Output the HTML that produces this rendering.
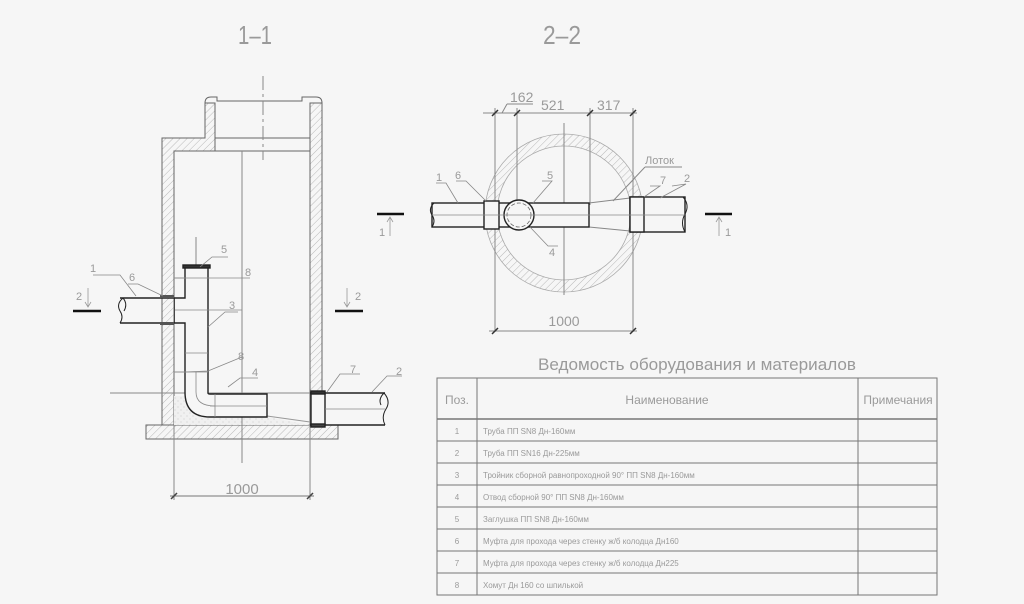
<!DOCTYPE html>
<html><head><meta charset="utf-8"><style>
html,body{margin:0;padding:0;background:#f6f6f6;}
svg{display:block;}
text{font-family:"Liberation Sans",sans-serif;fill:#9a9a9a;}
</style></head><body>
<svg width="1024" height="604" viewBox="0 0 1024 604" xmlns="http://www.w3.org/2000/svg">
<defs>
<pattern id="h" patternUnits="userSpaceOnUse" width="5" height="5" patternTransform="rotate(45)">
<rect width="5" height="5" fill="#f6f6f6"/><line x1="0" y1="0" x2="0" y2="5" stroke="#aaa" stroke-width="0.8"/>
</pattern>
<pattern id="d" patternUnits="userSpaceOnUse" width="6" height="6">
<rect width="6" height="6" fill="#f0f0f0"/><circle cx="1" cy="2" r="0.5" fill="#bbb"/><circle cx="4" cy="5" r="0.5" fill="#bbb"/>
</pattern>
</defs>

<!-- titles -->
<text x="255" y="44" font-size="26" text-anchor="middle" textLength="34" lengthAdjust="spacingAndGlyphs" fill="#c4c4c4">1–1</text>
<text x="562" y="44" font-size="26" text-anchor="middle" textLength="38" lengthAdjust="spacingAndGlyphs" fill="#c4c4c4">2–2</text>

<!-- ========== LEFT 1-1 ========== -->
<g stroke="#666" stroke-width="1" fill="none">
<path d="M162,138 H205 V103 H215 V151 H174 V425 H162 Z" fill="url(#h)"/>
<path d="M310,103 H322 V425 H310 Z" fill="url(#h)"/>
<path d="M205,103 Q205,97 211,97 H217 V101 H302 V97 H316 Q322,97 322,103"/>
<line x1="215" y1="138" x2="310" y2="138"/>
<line x1="215" y1="151" x2="310" y2="151"/>
<rect x="146" y="425" width="192" height="14" fill="url(#h)"/>
<path d="M174,396 H186 Q190,417 210,417 H267 L310,425 H174 Z" fill="url(#d)" stroke="none"/>
<line x1="267" y1="416" x2="310" y2="422" stroke="#999"/>
<line x1="242" y1="151" x2="242" y2="463" stroke="#888"/>
<line x1="263" y1="76" x2="263" y2="160" stroke="#888" stroke-dasharray="14,4,3,4"/>
<line x1="110" y1="393" x2="310" y2="393" stroke="#888"/>
<line x1="196" y1="237" x2="196" y2="268" stroke="#888"/>
<line x1="174" y1="425" x2="174" y2="500" stroke="#888"/>
<line x1="310" y1="425" x2="310" y2="500" stroke="#888"/>
<line x1="170" y1="496" x2="314" y2="496" stroke="#777"/>
<line x1="171" y1="499" x2="177" y2="493" stroke="#444" stroke-width="1.5"/>
<line x1="307" y1="499" x2="313" y2="493" stroke="#444" stroke-width="1.5"/>
</g>
<text x="242" y="494" font-size="15" text-anchor="middle" fill="#aaa">1000</text>

<g stroke="#222" stroke-width="1.4" fill="#f6f6f6">
<path d="M120,298 H175 M120,323 H175"/>
<path d="M175,298 V323" stroke-width="1"/>
<path d="M175,298 H185 V267 H208 V393 Q208,394 210,394 H267 V417 H210 Q185,417 185,392 V323 H175" />
<path d="M123,298 Q116,304 120,311 Q124,317 120,323" fill="none" stroke-width="1"/>
<path d="M123,298 Q128,304 124,311" fill="none" stroke-width="1"/>
<rect x="183" y="265" width="27" height="3" fill="#333"/>
<rect x="160" y="295" width="14" height="3" fill="#555" stroke="none"/>
<rect x="160" y="322" width="14" height="3" fill="#555" stroke="none"/>
</g>
<g stroke="#888" stroke-width="0.8" fill="none">
<line x1="175" y1="310" x2="242" y2="310"/>
<line x1="185" y1="353" x2="208" y2="353"/>
<line x1="185" y1="372" x2="208" y2="372"/>
<line x1="174" y1="372" x2="185" y2="372"/>
<line x1="174" y1="278" x2="185" y2="278"/>
<line x1="210" y1="406" x2="267" y2="406"/>
<line x1="215" y1="394" x2="215" y2="417"/>
<path d="M196,372 V392 Q196,406 215,406"/>
</g>
<g stroke="#222" stroke-width="1.4" fill="#f6f6f6">
<path d="M310,393 H385 M310,425 H385"/>
<rect x="311" y="393" width="14" height="32"/>
<path d="M384,393 Q391,401 386,409 Q381,417 385,425" fill="none" stroke-width="1"/>
<path d="M384,393 Q378,399 381,405" fill="none" stroke-width="1"/>
<rect x="311" y="391" width="14" height="3" fill="#333"/>
<rect x="311" y="424" width="14" height="3" fill="#444"/>
</g>
<line x1="325" y1="409" x2="385" y2="409" stroke="#888" stroke-width="0.8"/>
<g stroke="#888" stroke-width="0.8" fill="none">
<polyline points="93,275 120,275 136,296"/>
<polyline points="128,284 138,284 163,296"/>
<polyline points="200,267 212,257 228,257"/>
<polyline points="175,278 250,278"/>
<polyline points="208,327 225,312 238,312"/>
<polyline points="175,372 185,372 208,371 242,357"/>
<polyline points="228,387 240,378 258,378"/>
<polyline points="327,392 340,374 360,374"/>
<polyline points="372,392 387,376 402,376"/>
</g>
<g font-size="11" fill="#999">
<text x="90" y="272">1</text><text x="129" y="281">6</text><text x="221" y="253">5</text>
<text x="245" y="276">8</text><text x="229" y="309">3</text><text x="238" y="360">8</text>
<text x="252" y="376">4</text><text x="350" y="373">7</text><text x="396" y="375">2</text>
</g>
<g stroke="#111" stroke-width="2.5">
<line x1="73" y1="311" x2="101" y2="311"/><line x1="335" y1="311" x2="363" y2="311"/>
</g>
<g stroke="#999" stroke-width="0.8" fill="none">
<path d="M88,288 V306 M85,302 L88,307 L91,302"/>
<path d="M347,288 V306 M344,302 L347,307 L350,302"/>
</g>
<g font-size="11" fill="#999"><text x="76" y="300">2</text><text x="355" y="300">2</text></g>

<!-- ========== RIGHT 2-2 ========== -->
<g stroke="#888" stroke-width="1" fill="none">
<circle cx="564" cy="213" r="73" stroke="url(#h)" stroke-width="12"/>
<circle cx="564" cy="213" r="79" stroke="#aaa" stroke-width="0.8"/>
<circle cx="564" cy="213" r="67" stroke="#aaa" stroke-width="0.8"/>
<line x1="564" y1="123" x2="564" y2="295"/>
<line x1="495" y1="108" x2="495" y2="332"/>
<line x1="633" y1="108" x2="633" y2="332"/>
<line x1="517" y1="108" x2="517" y2="215"/>
<line x1="590" y1="108" x2="590" y2="205"/>
<line x1="483" y1="113" x2="637" y2="113"/>
<line x1="489" y1="331" x2="637" y2="331"/>
<line x1="507" y1="104" x2="533" y2="104"/>
<line x1="507" y1="104" x2="502" y2="113"/>
<line x1="613" y1="201" x2="645" y2="167"/>
<line x1="645" y1="167" x2="682" y2="167"/>
<line x1="589" y1="203" x2="630" y2="198"/>
<line x1="589" y1="227" x2="630" y2="231"/>
</g>
<g stroke="#333" stroke-width="1.5">
<line x1="492" y1="116" x2="498" y2="110"/><line x1="514" y1="116" x2="520" y2="110"/>
<line x1="587" y1="116" x2="593" y2="110"/><line x1="630" y1="116" x2="636" y2="110"/>
<line x1="492" y1="334" x2="498" y2="328"/><line x1="630" y1="334" x2="636" y2="328"/>
</g>
<g font-size="14" fill="#999">
<text x="510" y="102">162</text><text x="541" y="110">521</text><text x="597" y="110">317</text>
<text x="564" y="326" text-anchor="middle">1000</text>
</g>
<g stroke="#222" stroke-width="1.4" fill="#f6f6f6">
<rect x="432" y="203" width="157" height="24"/>
<path d="M434,203 Q428,209 432,215 Q436,221 432,227" fill="none" stroke-width="1"/>
<rect x="484" y="201" width="15" height="28"/>
<circle cx="519" cy="215" r="15"/>
<circle cx="519" cy="215" r="12" fill="none" stroke="#666" stroke-width="0.8" stroke-dasharray="4,2"/>
<rect x="630" y="197" width="55" height="35"/>
<rect x="630" y="197" width="14" height="35"/>
<path d="M683,197 Q690,205 685,214 Q680,223 685,232" fill="none" stroke-width="1"/>
</g>
<line x1="432" y1="215" x2="685" y2="215" stroke="#888" stroke-width="0.8"/>
<g stroke="#888" stroke-width="0.8" fill="none">
<polyline points="436,183 446,183 458,203"/>
<polyline points="456,181 466,181 486,201"/>
<polyline points="542,181 552,181 533,203"/>
<polyline points="530,227 548,246 558,246"/>
<polyline points="650,186 660,186 644,197"/>
<polyline points="672,186 686,184 660,198"/>
</g>
<g font-size="11" fill="#999">
<text x="436" y="181">1</text><text x="455" y="179">6</text><text x="547" y="179">5</text>
<text x="549" y="256">4</text><text x="660" y="184">7</text><text x="684" y="182">2</text>
<text x="645" y="164">Лоток</text>
</g>
<g stroke="#111" stroke-width="2.5">
<line x1="377" y1="214" x2="404" y2="214"/><line x1="705" y1="214" x2="732" y2="214"/>
</g>
<g stroke="#999" stroke-width="0.8" fill="none">
<path d="M390,236 V218 M387,222 L390,217 L393,222"/>
<path d="M719,236 V218 M716,222 L719,217 L722,222"/>
</g>
<g font-size="11" fill="#999"><text x="379" y="236">1</text><text x="725" y="236">1</text></g>

<!-- ========== TABLE ========== -->
<text x="697" y="370" font-size="17" text-anchor="middle" fill="#b0b0b0" textLength="318" lengthAdjust="spacingAndGlyphs">Ведомость оборудования и материалов</text>
<g stroke="#777" stroke-width="1" fill="none">
<rect x="437" y="378" width="500" height="217"/>
<line x1="437" y1="419" x2="937" y2="419" stroke-width="1.6"/>
<line x1="477" y1="378" x2="477" y2="595"/>
<line x1="858" y1="378" x2="858" y2="595"/>
<line x1="437" y1="441" x2="937" y2="441"/>
<line x1="437" y1="463" x2="937" y2="463"/>
<line x1="437" y1="485" x2="937" y2="485"/>
<line x1="437" y1="507" x2="937" y2="507"/>
<line x1="437" y1="529" x2="937" y2="529"/>
<line x1="437" y1="551" x2="937" y2="551"/>
<line x1="437" y1="573" x2="937" y2="573"/>
</g>
<g font-size="12" fill="#a8a8a8">
<text x="457" y="404" text-anchor="middle">Поз.</text>
<text x="667" y="404" text-anchor="middle">Наименование</text>
<text x="898" y="404" text-anchor="middle">Примечания</text>
</g>
<g font-size="8" fill="#aaa">
<text x="457" y="434" text-anchor="middle">1</text><text x="483" y="434">Труба ПП SN8 Дн-160мм</text>
<text x="457" y="456" text-anchor="middle">2</text><text x="483" y="456">Труба ПП SN16 Дн-225мм</text>
<text x="457" y="478" text-anchor="middle">3</text><text x="483" y="478">Тройник сборной равнопроходной 90° ПП SN8 Дн-160мм</text>
<text x="457" y="500" text-anchor="middle">4</text><text x="483" y="500">Отвод сборной 90° ПП SN8 Дн-160мм</text>
<text x="457" y="522" text-anchor="middle">5</text><text x="483" y="522">Заглушка ПП SN8 Дн-160мм</text>
<text x="457" y="544" text-anchor="middle">6</text><text x="483" y="544">Муфта для прохода через стенку ж/б колодца Дн160</text>
<text x="457" y="566" text-anchor="middle">7</text><text x="483" y="566">Муфта для прохода через стенку ж/б колодца Дн225</text>
<text x="457" y="588" text-anchor="middle">8</text><text x="483" y="588">Хомут Дн 160 со шпилькой</text>
</g>
</svg>
</body></html>
